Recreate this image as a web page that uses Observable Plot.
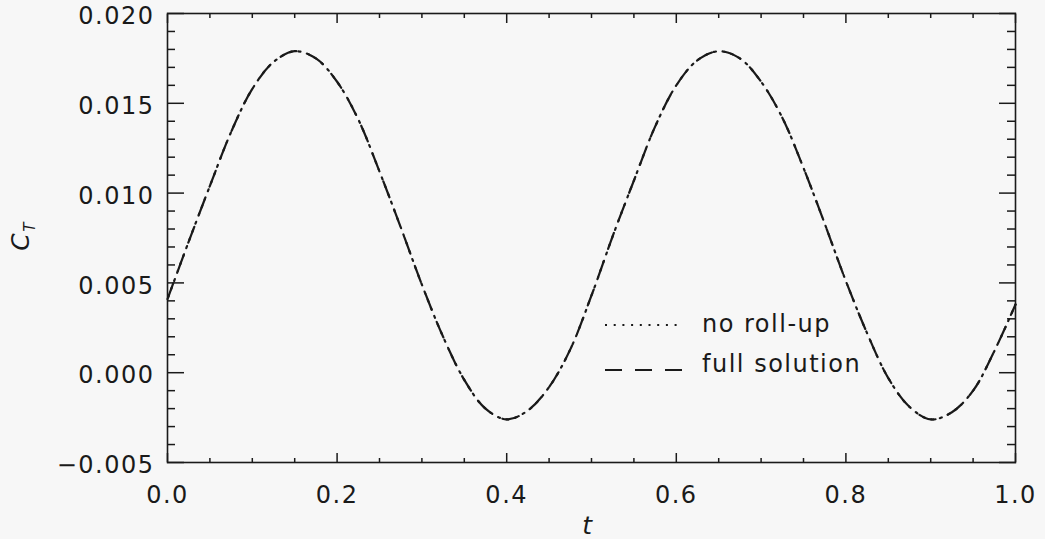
<!DOCTYPE html>
<html><head><meta charset="utf-8">
<script src="https://cdn.jsdelivr.net/npm/d3@7"></script>
<script src="https://cdn.jsdelivr.net/npm/@observablehq/plot@0.6"></script>
<style>
html,body{margin:0;padding:0;background:#f7f7f7;}
#chart svg{display:block;}
#chart svg text{letter-spacing:1.5px;}
</style></head><body><div id="chart"></div>
<script>
// time samples (t)
const tValues = [0,0.025,0.05,0.075,0.1,0.125,0.15,0.175,0.2,0.225,0.25,0.275,0.3,0.325,0.35,0.375,0.4,0.425,0.45,0.475,0.5,
  0.525,0.55,0.575,0.6,0.625,0.65,0.675,0.7,0.725,0.75,0.775,0.8,0.825,0.85,0.875,0.9,0.925,0.95,0.975,1.0];
// C_T, no roll-up (dotted)
const noRollUp = [0.0041,0.0073,0.0104,0.0134,0.0158,0.0173,0.0179,0.0175,0.0162,0.0141,0.0112,0.0081,0.0049,0.0020,-0.0004,-0.0020,-0.0026,-0.0021,-0.0008,0.0013,0.0043,
  0.0076,0.0107,0.0137,0.0160,0.0174,0.0179,0.0175,0.0162,0.0142,0.0114,0.0083,0.0051,0.0022,-0.0003,-0.0019,-0.0026,-0.0022,-0.0010,0.0012,0.0038];
// C_T, full solution (dashed)
const fullSolution = [0.0041,0.0073,0.0104,0.0134,0.0158,0.0173,0.0179,0.0175,0.0162,0.0141,0.0112,0.0081,0.0049,0.0020,-0.0004,-0.0020,-0.0026,-0.0021,-0.0008,0.0013,0.0043,
  0.0076,0.0107,0.0137,0.0160,0.0174,0.0179,0.0175,0.0162,0.0142,0.0114,0.0083,0.0051,0.0022,-0.0003,-0.0019,-0.0026,-0.0022,-0.0010,0.0012,0.0038];
const seriesLabels = ["no roll-up", "full solution"];
const xMajorTicks = [0,0.2,0.4,0.6,0.8,1.0];
const xMinorTicks = [0.05,0.1,0.15,0.25,0.3,0.35,0.45,0.5,0.55,0.65,0.7,0.75,0.85,0.9,0.95];
const yMajorTicks = [-0.005,0,0.005,0.01,0.015,0.02];
const yMinorTicks = [-0.004,-0.003,-0.002,-0.001,0.001,0.002,0.003,0.004,0.006,0.007,0.008,0.009,
  0.011,0.012,0.013,0.014,0.016,0.017,0.018,0.019];
const xTitle = "t";
const yTitleMain = "C", yTitleSub = "T";

const ink = "#1a1a1a";
const font = "DejaVu Sans";
const blank = () => "";

const plot = Plot.plot({
  width: 1045, height: 539,
  marginLeft: 167, marginRight: 30, marginTop: 13, marginBottom: 77,
  x: {domain: [0, 1]},
  y: {domain: [-0.005, 0.02]},
  style: {background: "#f7f7f7", fontFamily: font, color: ink, overflow: "visible"},
  marks: [
    Plot.axisX(xMajorTicks, {anchor: "bottom", tickSize: -9, tickFormat: blank, label: null, strokeWidth: 1.5}),
    Plot.axisX(xMinorTicks, {anchor: "bottom", tickSize: -4, tickFormat: blank, label: null, strokeWidth: 1.5}),
    Plot.axisX(xMajorTicks, {anchor: "top", tickSize: -9, tickFormat: blank, label: null, strokeWidth: 1.5}),
    Plot.axisX(xMinorTicks, {anchor: "top", tickSize: -4, tickFormat: blank, label: null, strokeWidth: 1.5}),
    Plot.axisY(yMajorTicks, {anchor: "left", tickSize: -17, tickFormat: blank, label: null, strokeWidth: 1.5}),
    Plot.axisY(yMinorTicks, {anchor: "left", tickSize: -8, tickFormat: blank, label: null, strokeWidth: 1.5}),
    Plot.axisY(yMajorTicks, {anchor: "right", tickSize: -17, tickFormat: blank, label: null, strokeWidth: 1.5}),
    Plot.axisY(yMinorTicks, {anchor: "right", tickSize: -9, tickFormat: blank, label: null, strokeWidth: 1.5}),
    Plot.axisX(xMajorTicks, {anchor: "bottom", tickSize: 0, tickPadding: 23, tickFormat: d3.format(".1f"), label: null, fontSize: 24, fill: ink}),
    Plot.axisY(yMajorTicks, {anchor: "left", tickSize: 0, tickPadding: 13, dy: 3, tickFormat: d3.format(".3f"), label: null, fontSize: 24, fill: ink}),
    Plot.frame({stroke: ink, strokeWidth: 1.6}),
    Plot.line(tValues, {x: tValues, y: fullSolution, curve: "catmull-rom", stroke: ink, strokeWidth: 2.2, strokeDasharray: "17,13"}),
    Plot.line(tValues, {x: tValues, y: noRollUp, curve: "catmull-rom", stroke: ink, strokeWidth: 2.2, strokeDasharray: "2,6.7", strokeDashoffset: -2})
  ]
});
document.getElementById("chart").appendChild(plot);

const svg = d3.select(plot);
const lg = svg.append("g").attr("font-family", font).attr("font-size", 24).attr("fill", ink).attr("text-anchor", "start");
lg.append("line").attr("x1", 605).attr("x2", 683).attr("y1", 325).attr("y2", 325)
  .attr("stroke", ink).attr("stroke-width", 2.2).attr("stroke-dasharray", "2,6.7");
lg.append("text").attr("x", 702).attr("y", 332).attr("text-anchor", "start").text(seriesLabels[0]);
lg.append("line").attr("x1", 605).attr("x2", 683).attr("y1", 370).attr("y2", 370)
  .attr("stroke", ink).attr("stroke-width", 2.2).attr("stroke-dasharray", "17,13");
lg.append("text").attr("x", 702).attr("y", 372).attr("text-anchor", "start").text(seriesLabels[1]);

svg.append("text").attr("x", 588).attr("y", 534).attr("text-anchor", "middle")
  .attr("font-family", font).attr("font-style", "italic").attr("font-size", 25).attr("fill", ink).text(xTitle);
const yt = svg.append("text").attr("transform", "translate(29,236) rotate(-90)").attr("text-anchor", "middle")
  .attr("font-family", font).attr("font-style", "italic").attr("fill", ink);
yt.append("tspan").attr("font-size", 25).text(yTitleMain);
yt.append("tspan").attr("font-size", 15).attr("dy", 6).text(yTitleSub);
</script></body></html>
